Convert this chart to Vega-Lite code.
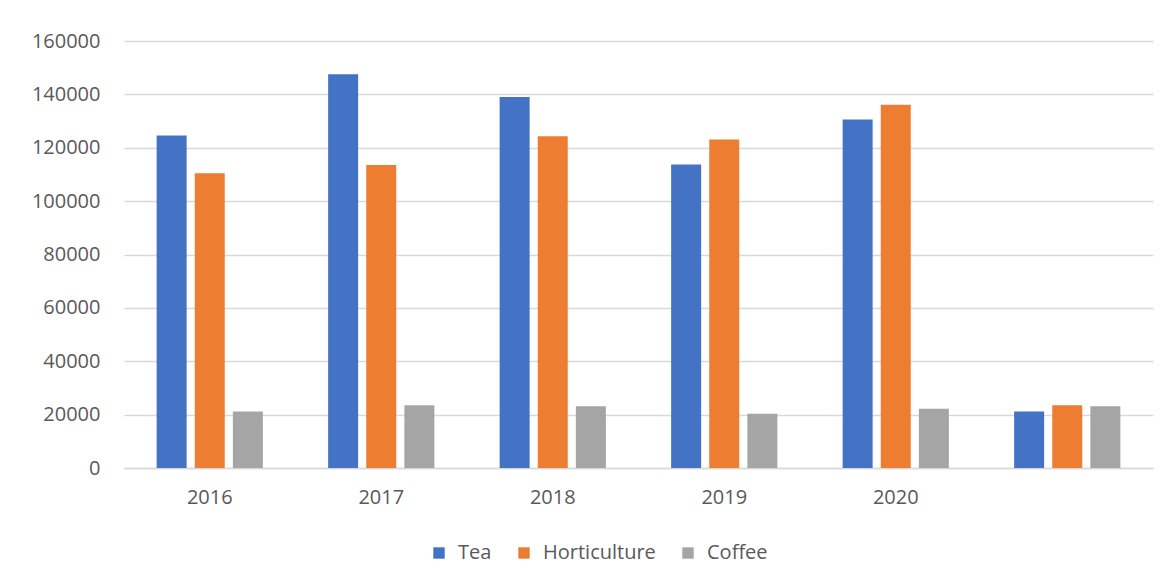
{
  "$schema": "https://vega.github.io/schema/vega-lite/v6.json",
  "width": 1029,
  "height": 427,
  "autosize": {"type": "none"},
  "padding": {"left": 124, "top": 41, "right": 14, "bottom": 116},
  "background": "white",
  "data": {
    "values": [
      {"year": "2016", "series": "Tea", "value": 124600},
      {"year": "2016", "series": "Horticulture", "value": 110400},
      {"year": "2016", "series": "Coffee", "value": 21200},
      {"year": "2017", "series": "Tea", "value": 147500},
      {"year": "2017", "series": "Horticulture", "value": 113500},
      {"year": "2017", "series": "Coffee", "value": 23500},
      {"year": "2018", "series": "Tea", "value": 139000},
      {"year": "2018", "series": "Horticulture", "value": 124300},
      {"year": "2018", "series": "Coffee", "value": 23100},
      {"year": "2019", "series": "Tea", "value": 113700},
      {"year": "2019", "series": "Horticulture", "value": 123100},
      {"year": "2019", "series": "Coffee", "value": 20300},
      {"year": "2020", "series": "Tea", "value": 130600},
      {"year": "2020", "series": "Horticulture", "value": 136100},
      {"year": "2020", "series": "Coffee", "value": 22200},
      {"year": "blank", "series": "Tea", "value": 21200},
      {"year": "blank", "series": "Horticulture", "value": 23500},
      {"year": "blank", "series": "Coffee", "value": 23100}
    ]
  },
  "mark": {"type": "bar", "width": 30},
  "encoding": {
    "x": {
      "field": "year",
      "type": "nominal",
      "sort": ["2016", "2017", "2018", "2019", "2020", "blank"],
      "scale": {"paddingInner": 0.38, "paddingOuter": 0.19},
      "axis": {
        "title": null,
        "labelAngle": 0,
        "labelExpr": "datum.value == 'blank' ? '' : datum.value",
        "ticks": false,
        "domain": true,
        "domainColor": "#d9d9d9",
        "domainWidth": 1.5,
        "labelPadding": 19,
        "labelFontSize": 20,
        "labelColor": "#595959",
        "labelFont": "Open Sans"
      }
    },
    "xOffset": {
      "field": "series",
      "type": "nominal",
      "sort": ["Tea", "Horticulture", "Coffee"],
      "scale": {"paddingInner": 0.21, "paddingOuter": 0}
    },
    "y": {
      "field": "value",
      "type": "quantitative",
      "scale": {"domain": [0, 160000]},
      "axis": {
        "title": null,
        "values": [0, 20000, 40000, 60000, 80000, 100000, 120000, 140000, 160000],
        "format": "d",
        "domain": false,
        "ticks": false,
        "grid": true,
        "gridColor": "#d9d9d9",
        "gridWidth": 1.5,
        "labelPadding": 24,
        "labelFontSize": 20,
        "labelColor": "#595959",
        "labelFont": "Open Sans"
      }
    },
    "color": {
      "field": "series",
      "type": "nominal",
      "sort": ["Tea", "Horticulture", "Coffee"],
      "scale": {"domain": ["Tea", "Horticulture", "Coffee"], "range": ["#4472c4", "#ed7d31", "#a5a5a5"]},
      "legend": {
        "title": null,
        "orient": "none",
        "direction": "horizontal",
        "legendX": 305,
        "legendY": 502,
        "symbolType": "square",
        "symbolSize": 130,
        "symbolStrokeWidth": 0,
        "symbolOpacity": 1,
        "labelFontSize": 20,
        "labelColor": "#595959",
        "labelFont": "Open Sans",
        "labelOffset": 9,
        "columnPadding": 22
      }
    }
  },
  "config": {
    "view": {"stroke": null}
  }
}
